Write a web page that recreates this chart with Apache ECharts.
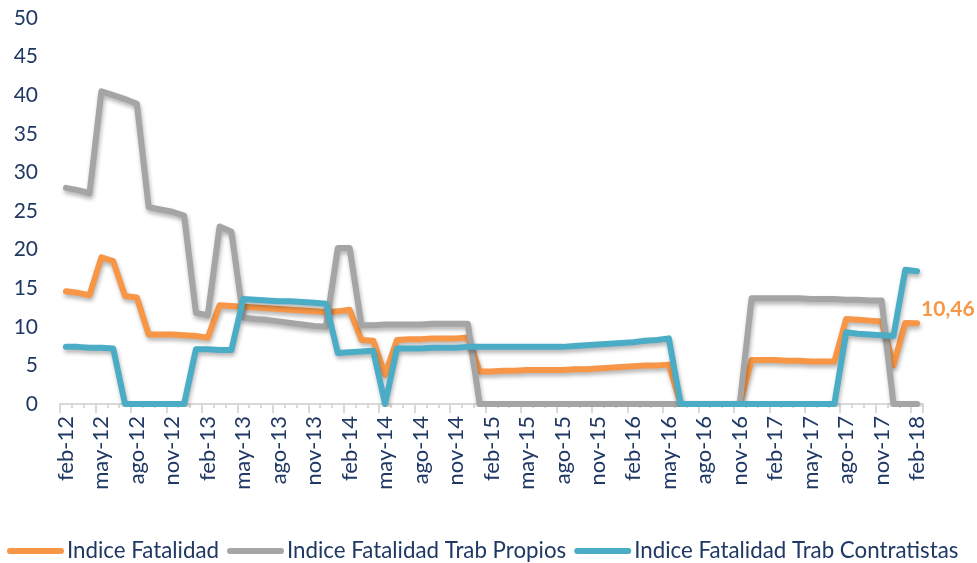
<!DOCTYPE html>
<html lang="es">
<head>
  <meta charset="UTF-8">
  <title>Indice Fatalidad</title>
  <script src="https://cdn.jsdelivr.net/npm/echarts@6/dist/echarts.min.js"></script>
  <style>
    html, body { margin: 0; padding: 0; background: #fff; }
    #chart { width: 977px; height: 563px; }
  </style>
</head>
<body>
  <div id="chart"></div>
  <script>
    // meses feb-12 .. feb-18
    const meses = ['ene', 'feb', 'mar', 'abr', 'may', 'jun', 'jul', 'ago', 'sep', 'oct', 'nov', 'dic'];
    const anios = ['12', '13', '14', '15', '16', '17', '18'];
    const categorias = [];
    anios.forEach((a, k) => {
      meses.forEach((m, j) => {
        if ((k === 0 && j < 1) || (k === anios.length - 1 && j > 1)) return;
        categorias.push(m + '-' + a);
      });
    });

    const fatalidad = [
      14.6, 14.4, 14.1, 19.0, 18.5, 14.0, 13.8, 9.0, 9.0, 9.0, 8.9, 8.8, 8.6,
      12.8, 12.7, 12.6, 12.5, 12.4, 12.3, 12.2, 12.1, 12.0, 11.9, 12.0, 12.2,
      8.3, 8.2, 3.8, 8.3, 8.4, 8.4, 8.5, 8.5, 8.5, 8.6,
      4.2, 4.2, 4.3, 4.3, 4.4, 4.4, 4.4, 4.4, 4.5, 4.5, 4.6, 4.7, 4.8, 4.9, 5.0, 5.0, 5.1,
      0, 0, 0, 0, 0, 0,
      5.7, 5.7, 5.7, 5.6, 5.6, 5.5, 5.5, 5.5,
      11.0, 10.9, 10.8, 10.7, 5.0, 10.5, 10.46
    ];

    const propios = [
      28.0, 27.7, 27.3, 40.5, 40.0, 39.5, 38.9, 25.5, 25.2, 24.9, 24.4, 11.8, 11.5,
      23.0, 22.3, 11.2, 11.0, 10.9, 10.7, 10.5, 10.3, 10.1, 10.0, 20.2, 20.2,
      10.2, 10.2, 10.3, 10.3, 10.3, 10.3, 10.4, 10.4, 10.4, 10.4,
      0, 0, 0, 0, 0, 0, 0, 0, 0, 0, 0, 0, 0, 0, 0, 0, 0,
      0, 0, 0, 0, 0, 0,
      13.7, 13.7, 13.7, 13.7, 13.7, 13.6, 13.6, 13.6,
      13.5, 13.5, 13.4, 13.4, 0, 0, 0
    ];

    const contratistas = [
      7.4, 7.4, 7.3, 7.3, 7.2, 0, 0, 0, 0, 0, 0, 7.1, 7.1,
      7.0, 7.0, 13.6, 13.5, 13.4, 13.3, 13.3, 13.2, 13.1, 13.0, 6.6, 6.7,
      6.8, 6.9, 0, 7.2, 7.2, 7.2, 7.3, 7.3, 7.3, 7.4,
      7.4, 7.4, 7.4, 7.4, 7.4, 7.4, 7.4, 7.4, 7.5, 7.6, 7.7, 7.8, 7.9, 8.0, 8.2, 8.3, 8.5,
      0, 0, 0, 0, 0, 0,
      0, 0, 0, 0, 0, 0, 0, 0,
      9.3, 9.1, 9.0, 8.9, 8.8, 17.4, 17.2
    ];

    const nombres = ['Indice Fatalidad', 'Indice Fatalidad Trab Propios', 'Indice Fatalidad Trab Contratistas'];
    const colores = ['#F79646', '#A5A5A5', '#4BACC6'];
    const texto = '#1F3864';
    const fuente = 'Lato, "Open Sans", sans-serif';

    function serie(nombre, datos, color, etiquetaFinal) {
      return {
        name: nombre,
        type: 'line',
        symbol: 'none',
        color: color,
        lineStyle: {
          width: 6, color: color, cap: 'round', join: 'round',
          shadowColor: 'rgba(0,0,0,0.3)', shadowBlur: 4, shadowOffsetX: 1, shadowOffsetY: 3
        },
        endLabel: {
          show: etiquetaFinal,
          distance: 6,
          offset: [-2, -14],
          formatter: p => String(p.value).replace('.', ','),
          color: color, fontWeight: 'bold', fontSize: 21, fontFamily: fuente
        },
        data: datos
      };
    }

    const chart = echarts.init(document.getElementById('chart'));
    chart.setOption({
      animation: false,
      grid: { left: 60, right: 54, top: 18, bottom: 159 },
      legend: {
        data: nombres,
        left: 2, top: 535,
        itemWidth: 57, itemHeight: 6, itemGap: 8,
        icon: 'path://M3,0 L54,0 A3,3 0 0 1 54,6 L3,6 A3,3 0 0 1 3,0 Z',
        textStyle: { color: texto, fontSize: 22.3, fontFamily: fuente, padding: [0, 0, 0, -2] }
      },
      xAxis: [{
        type: 'category',
        data: categorias,
        boundaryGap: true,
        axisLine: { lineStyle: { color: '#D9D9D9', width: 2 } },
        axisTick: { show: true, interval: 0, length: 4, lineStyle: { color: '#D9D9D9', width: 2 } },
        axisLabel: { interval: 2, rotate: 90, color: texto, fontSize: 22, fontFamily: fuente, margin: 12 }
      }, {
        type: 'category',
        data: categorias,
        boundaryGap: true,
        position: 'bottom',
        axisLine: { show: false },
        axisTick: { show: true, interval: 2, length: 9, lineStyle: { color: '#D9D9D9', width: 2 } },
        axisLabel: { show: false }
      }],
      yAxis: {
        type: 'value',
        min: 0, max: 50, interval: 5,
        axisLine: { show: false },
        axisTick: { show: false },
        splitLine: { show: false },
        axisLabel: { color: texto, fontSize: 21, fontFamily: fuente, margin: 22 }
      },
      series: [
        serie(nombres[0], fatalidad, colores[0], true),
        serie(nombres[1], propios, colores[1], false),
        serie(nombres[2], contratistas, colores[2], false)
      ]
    });
  </script>
</body>
</html>
